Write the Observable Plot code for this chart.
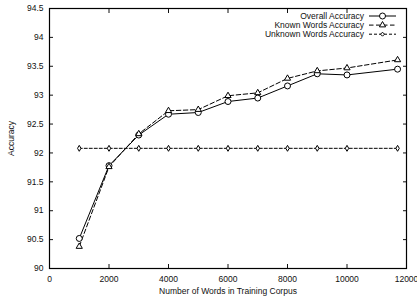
<!DOCTYPE html>
<html>
<head>
<meta charset="utf-8">
<script src="https://cdn.jsdelivr.net/npm/d3@7"></script>
<script src="https://cdn.jsdelivr.net/npm/@observablehq/plot@0.6"></script>
<style>
  html, body { margin: 0; padding: 0; background: #fff; }
  #chart svg { display: block; }
</style>
</head>
<body>
<div id="chart"></div>
<script>
// Training corpus sizes (words)
const corpusSizes = [1000, 2000, 3000, 4000, 5000, 6000, 7000, 8000, 9000, 10000, 11700];
// Tagging accuracy (%) for each corpus size
const overallAccuracy = [90.52, 91.78, 92.31, 92.67, 92.70, 92.89, 92.95, 93.16, 93.37, 93.35, 93.45];
const knownAccuracy   = [90.38, 91.76, 92.33, 92.73, 92.75, 92.99, 93.04, 93.29, 93.42, 93.47, 93.61];
const unknownAccuracy = [92.08, 92.08, 92.08, 92.08, 92.08, 92.08, 92.08, 92.08, 92.08, 92.08, 92.08];

const seriesNames = ["Overall Accuracy", "Known Words Accuracy", "Unknown Words Accuracy"];
const xTicks = [0, 2000, 4000, 6000, 8000, 10000, 12000];
const yTicks = [90, 90.5, 91, 91.5, 92, 92.5, 93, 93.5, 94, 94.5];

const styles = [
  {symbol: "circle", r: 3.0, dash: null},
  {symbol: "triangle", r: 2.3, dash: "4.5,2.5"},
  {symbol: "diamond", r: 1.8, dash: "3,2"}
];

const valueLists = [overallAccuracy, knownAccuracy, unknownAccuracy];
const rows = valueLists.flatMap((vals, s) =>
  corpusSizes.map((x, i) => ({series: seriesNames[s], s, x, y: vals[i]}))
);

const font = "'Liberation Sans', Arial, Helvetica, sans-serif";

const lineMarks = styles.map((st, s) =>
  Plot.line(rows.filter(d => d.s === s), {
    x: "x", y: "y", stroke: "black", strokeWidth: 1,
    strokeDasharray: st.dash
  })
);
const dotMarks = styles.map((st, s) =>
  Plot.dot(rows.filter(d => d.s === s), {
    x: "x", y: "y", symbol: () => st.symbol, r: st.r,
    fill: "white", stroke: "black", strokeWidth: 1
  })
);

const chart = Plot.plot({
  width: 417,
  height: 298,
  marginLeft: 49,
  marginRight: 11,
  marginTop: 8,
  marginBottom: 30,
  style: {fontFamily: font, fontSize: "8.5px", color: "#111", background: "white"},
  x: {domain: [0, 12000]},
  y: {domain: [90, 94.5]},
  symbol: {type: "identity"},
  marks: [
    // tick labels and axis titles
    Plot.axisX(xTicks, {anchor: "bottom", tickSize: 0, tickPadding: 7, tickFormat: d => String(d),
      label: "Number of Words in Training Corpus", labelAnchor: "center", labelOffset: 25, labelArrow: "none"}),
    Plot.axisY(yTicks, {anchor: "left", tickSize: 0, tickPadding: 6, tickFormat: d => String(d),
      label: "Accuracy", labelAnchor: "center", labelOffset: 42, labelArrow: "none"}),
    // inward tick marks on all four sides
    Plot.axisX(xTicks, {anchor: "bottom", tickSize: -4, fill: "none", label: null}),
    Plot.axisX(xTicks, {anchor: "top", tickSize: -4, fill: "none", label: null}),
    Plot.axisY(yTicks, {anchor: "left", tickSize: -4, fill: "none", label: null}),
    Plot.axisY(yTicks, {anchor: "right", tickSize: -4, fill: "none", label: null}),
    ...lineMarks,
    ...dotMarks,
    Plot.frame({stroke: "black", strokeWidth: 1.2})
  ]
});

// Legend in the top-right corner of the plotting area
const svg = d3.select(chart);
const legend = svg.append("g").attr("font-family", font).attr("font-size", 8.5).attr("fill", "#111");
const plotRight = 417 - 11;
seriesNames.forEach((name, i) => {
  const cy = 16 + i * 9.1;
  const st = styles[i];
  legend.append("text")
    .attr("x", plotRight - 42).attr("y", cy).attr("dy", "0.32em")
    .attr("text-anchor", "end").text(name);
  legend.append("line")
    .attr("x1", plotRight - 37).attr("x2", plotRight - 10)
    .attr("y1", cy).attr("y2", cy)
    .attr("stroke", "black").attr("stroke-width", 1)
    .attr("stroke-dasharray", st.dash);
  const sym = {circle: d3.symbolCircle, triangle: d3.symbolTriangle, diamond: d3.symbolDiamond2}[st.symbol];
  legend.append("path")
    .attr("transform", `translate(${plotRight - 23.5},${cy})`)
    .attr("d", d3.symbol(sym, Math.PI * st.r * st.r)())
    .attr("fill", "white").attr("stroke", "black");
});

document.getElementById("chart").appendChild(chart);
</script>
</body>
</html>
